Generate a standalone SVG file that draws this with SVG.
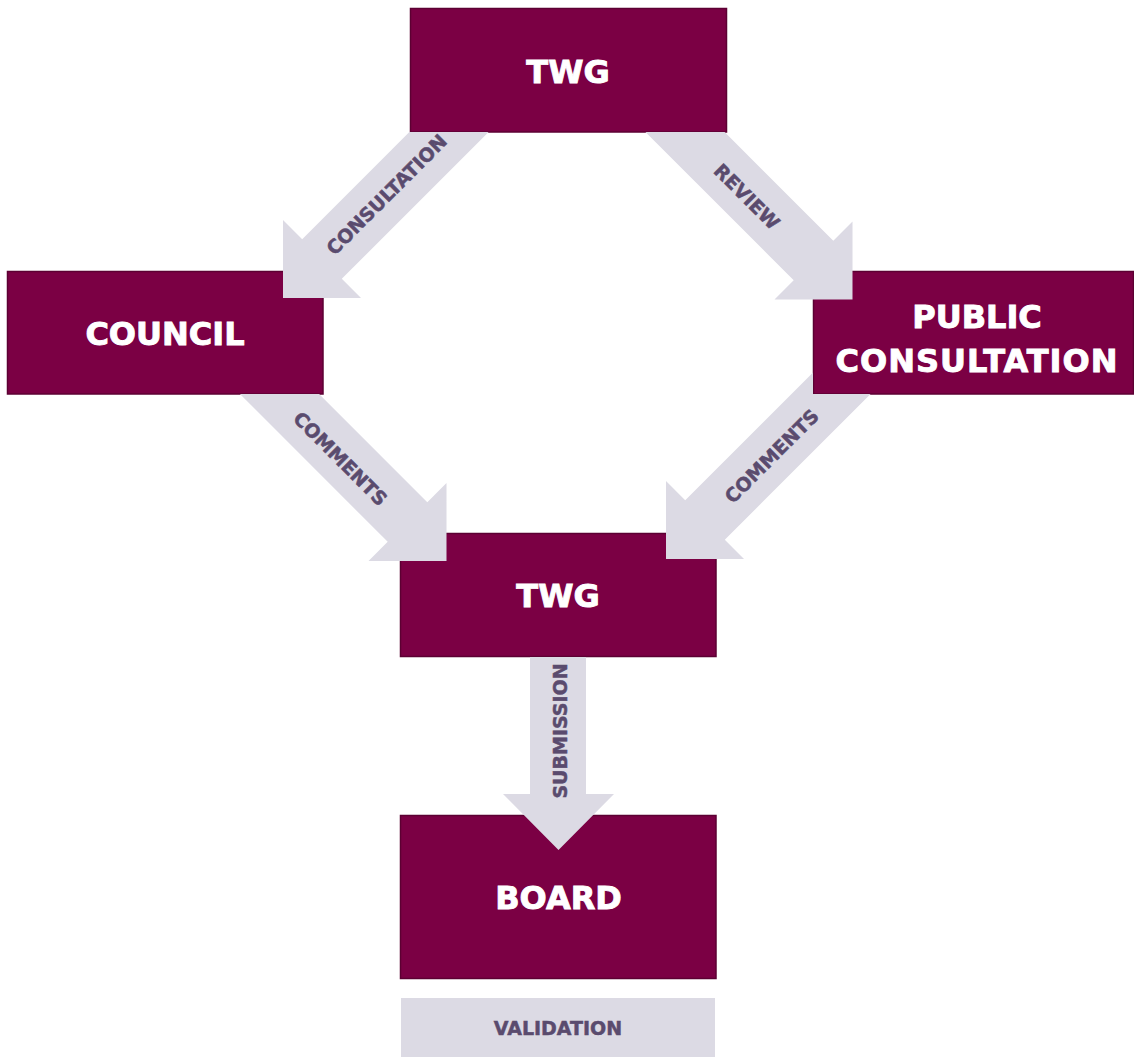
<svg xmlns="http://www.w3.org/2000/svg" width="1134" height="1057" viewBox="0 0 1134 1057">
  <style>
    .box { fill: #7b0044; stroke: #5c0033; stroke-width: 1.5; }
    .box-text { font-family: "DejaVu Sans", Verdana, sans-serif; font-weight: bold; font-size: 32px; fill: #ffffff; stroke: #ffffff; stroke-width: 0.9; text-anchor: middle; }
    .arrow { fill: #dcdae4; }
    .label { font-family: "DejaVu Sans", Verdana, sans-serif; font-weight: bold; font-size: 19px; fill: #5a4b6e; stroke: #5a4b6e; stroke-width: 0.5; text-anchor: middle; }
  </style>
  <rect width="1134" height="1057" fill="#ffffff"/>

  <!-- process steps -->
  <g id="twg-top">
    <rect class="box" x="410.5" y="8.5" width="316" height="123.5"/>
    <text class="box-text" x="568" y="82.5">TWG</text>
  </g>
  <g id="council">
    <rect class="box" x="7.5" y="271.5" width="315.5" height="122.5"/>
    <text class="box-text" x="165" y="344.5">COUNCIL</text>
  </g>
  <g id="public-consultation">
    <rect class="box" x="813.5" y="271.5" width="320" height="122.5"/>
    <text class="box-text" x="977" y="328">PUBLIC</text>
    <text class="box-text" x="977" y="372" letter-spacing="1">CONSULTATION</text>
  </g>
  <g id="twg-middle">
    <rect class="box" x="400.5" y="533.5" width="315.5" height="123"/>
    <text class="box-text" x="558" y="607">TWG</text>
  </g>
  <g id="board">
    <rect class="box" x="400.5" y="815.5" width="315.5" height="163"/>
    <text class="box-text" x="558.5" y="909">BOARD</text>
  </g>
  <g id="validation">
    <rect class="arrow" x="401" y="998" width="314" height="59"/>
    <text class="label" x="558" y="1035">VALIDATION</text>
  </g>

  <!-- block arrows between steps -->
  <g id="connectors">
    <polygon class="arrow" points="409.4,132 488.6,132 341.8,278.8 361,298 283,298 283,220 302.2,239.2"/>
    <polygon class="arrow" points="645.4,132 724.6,132 833.3,240.7 852.5,221.5 852.5,299.5 774.5,299.5 793.7,280.3"/>
    <polygon class="arrow" points="239.9,394 319.1,394 427.3,502.2 446.5,483 446.5,561 368.5,561 387.7,541.8"/>
    <polygon class="arrow" points="813,372.4 685.2,500.2 666,481 666,559 744,559 724.8,539.8 870.6,394 813,394"/>
    <polygon class="arrow" points="530,657 586,657 586,794 614,794 558.5,850 503,794 530,794"/>

    <g transform="translate(386.5,194.5) rotate(-45)"><text class="label" x="0" y="7">CONSULTATION</text></g>
    <g transform="translate(747,196.5) rotate(45)"><text class="label" x="0" y="7">REVIEW</text></g>
    <g transform="translate(340.5,458.5) rotate(45)"><text class="label" x="0" y="7">COMMENTS</text></g>
    <g transform="translate(771.5,456) rotate(-45)"><text class="label" x="0" y="7">COMMENTS</text></g>
    <g transform="translate(559.5,731) rotate(-90)"><text class="label" x="0" y="7">SUBMISSION</text></g>
  </g>
</svg>
